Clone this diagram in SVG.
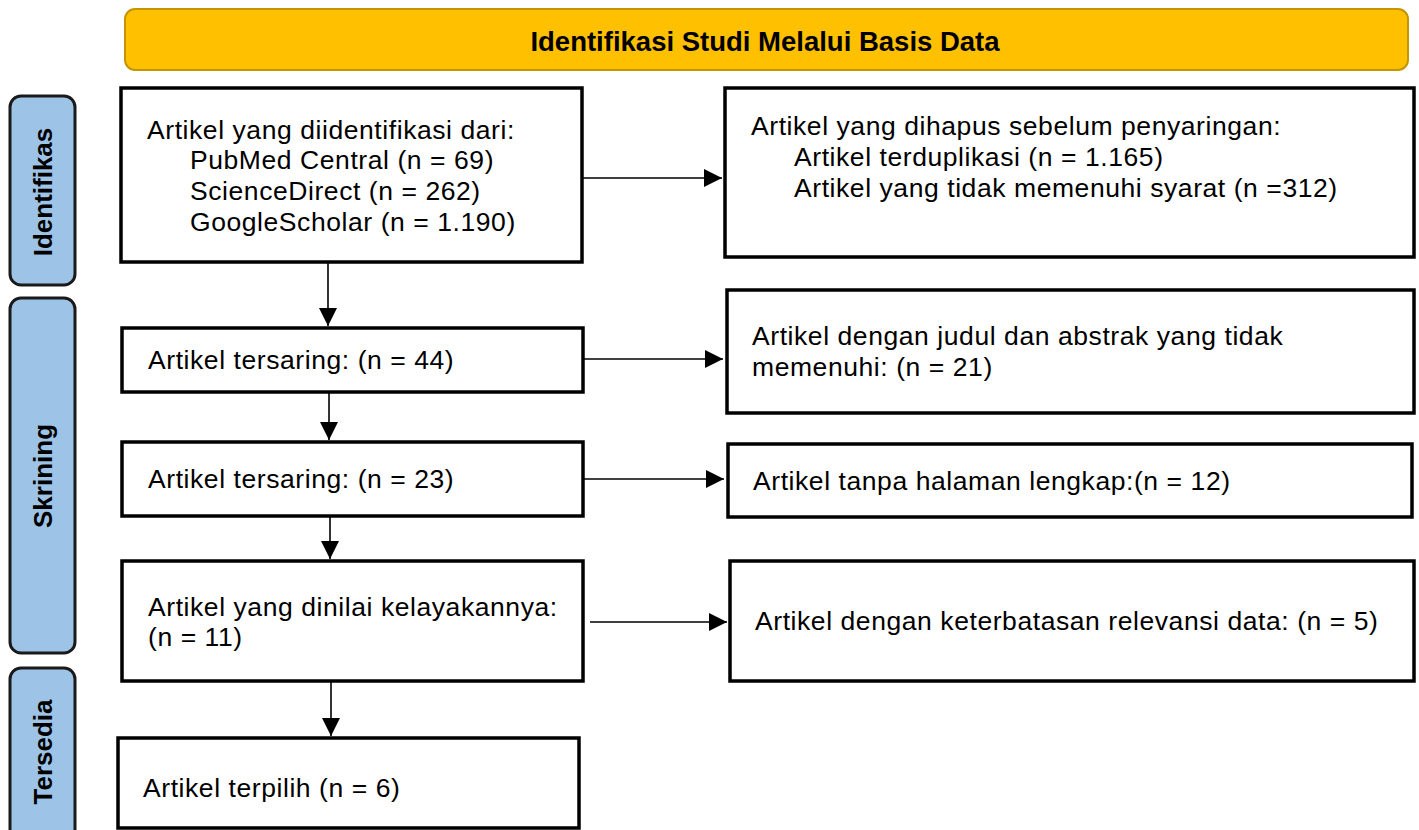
<svg xmlns="http://www.w3.org/2000/svg" width="1419" height="830" viewBox="0 0 1419 830">
<defs>
<marker id="ah" markerUnits="userSpaceOnUse" markerWidth="18" markerHeight="18" refX="18" refY="9" orient="auto">
<path d="M0,0 L18,9 L0,18 z" fill="#000"/>
</marker>
<style>
.box{fill:#fff;stroke:#000;stroke-width:3.5}
.side{fill:#9DC3E6;stroke:#1a1a1a;stroke-width:3}
.t{font-family:"Liberation Sans",Arial,sans-serif;font-size:26.5px;letter-spacing:0.57px;fill:#000}
.sl{font-family:"Liberation Sans",Arial,sans-serif;font-size:26px;font-weight:bold;fill:#000;text-anchor:middle;dominant-baseline:central}
.hd{font-family:"Liberation Sans",Arial,sans-serif;font-size:27.5px;font-weight:bold;fill:#000;text-anchor:middle}
.c{stroke:#000;stroke-width:1.6;fill:none}
</style>
</defs>
<rect width="1419" height="830" fill="#fff"/>
<g id="header">
<rect x="125" y="9" width="1283" height="61" rx="10" fill="#FFC000" stroke="#C49500" stroke-width="2"/>
<text class="hd" x="765" y="51">Identifikasi Studi Melalui Basis Data</text>
</g>
<g id="side-identifikasi">
<rect class="side" x="10" y="96" width="65" height="189" rx="11"/>
<text class="sl" transform="translate(43,192) rotate(-90)">Identifikas</text>
</g>
<g id="side-skrining">
<rect class="side" x="10" y="298" width="65" height="355" rx="11"/>
<text class="sl" transform="translate(43,476) rotate(-90)">Skrining</text>
</g>
<g id="side-tersedia">
<rect class="side" x="10" y="668" width="65" height="175" rx="11"/>
<text class="sl" transform="translate(43,752) rotate(-90)">Tersedia</text>
</g>
<g id="n-identified">
<rect class="box" x="121" y="88" width="461" height="174"/>
<text class="t" x="147" y="139">Artikel yang diidentifikasi dari:</text>
<text class="t" x="190" y="169">PubMed Central (n = 69)</text>
<text class="t" x="190" y="200">ScienceDirect (n = 262)</text>
<text class="t" x="190" y="231">GoogleScholar (n = 1.190)</text>
</g>
<g id="n-removed">
<rect class="box" x="725" y="88" width="689" height="169"/>
<text class="t" x="751" y="135">Artikel yang dihapus sebelum penyaringan:</text>
<text class="t" x="794" y="166">Artikel terduplikasi (n = 1.165)</text>
<text class="t" x="794" y="197">Artikel yang tidak memenuhi syarat (n =312)</text>
</g>
<g id="n-screened44">
<rect class="box" x="122" y="328" width="461" height="64"/>
<text class="t" x="148" y="369">Artikel tersaring: (n = 44)</text>
</g>
<g id="n-excluded21">
<rect class="box" x="727" y="290" width="687" height="123"/>
<text class="t" x="752" y="345">Artikel dengan judul dan abstrak yang tidak</text>
<text class="t" x="752" y="376">memenuhi: (n = 21)</text>
</g>
<g id="n-screened23">
<rect class="box" x="122" y="442" width="461" height="74"/>
<text class="t" x="148" y="488">Artikel tersaring: (n = 23)</text>
</g>
<g id="n-excluded12">
<rect class="box" x="728" y="444" width="684" height="73"/>
<text class="t" x="753" y="490">Artikel tanpa halaman lengkap:(n = 12)</text>
</g>
<g id="n-eligible">
<rect class="box" x="122" y="561" width="461" height="120"/>
<text class="t" x="148" y="616">Artikel yang dinilai kelayakannya:</text>
<text class="t" x="148" y="646">(n = 11)</text>
</g>
<g id="n-excluded5">
<rect class="box" x="730" y="561" width="684" height="120"/>
<text class="t" x="755" y="630">Artikel dengan keterbatasan relevansi data: (n = 5)</text>
</g>
<g id="n-included">
<rect class="box" x="118" y="738" width="461" height="90"/>
<text class="t" x="143" y="797">Artikel terpilih (n = 6)</text>
</g>
<g id="connectors">
<line class="c" x1="582" y1="178" x2="722" y2="178" marker-end="url(#ah)"/>
<line class="c" x1="583" y1="359" x2="723" y2="359" marker-end="url(#ah)"/>
<line class="c" x1="583" y1="479" x2="724" y2="479" marker-end="url(#ah)"/>
<line class="c" x1="590" y1="622" x2="727" y2="622" marker-end="url(#ah)"/>
<line class="c" x1="328" y1="262" x2="328" y2="326" marker-end="url(#ah)"/>
<line class="c" x1="329" y1="392" x2="329" y2="440" marker-end="url(#ah)"/>
<line class="c" x1="330" y1="516" x2="330" y2="559" marker-end="url(#ah)"/>
<line class="c" x1="331" y1="681" x2="331" y2="736" marker-end="url(#ah)"/>
</g>
</svg>
